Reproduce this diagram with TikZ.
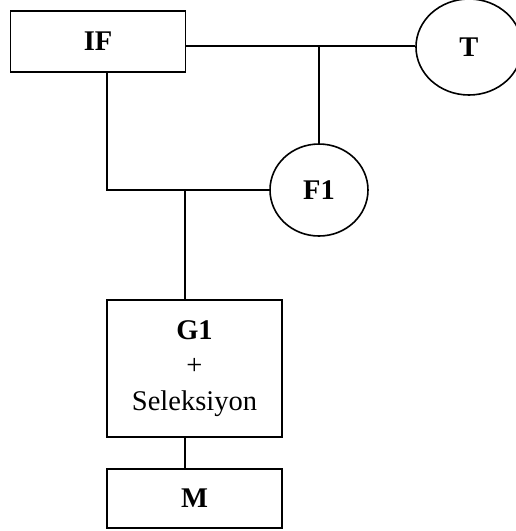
\documentclass[tikz,border=0pt]{standalone}
\usepackage{fontspec}
\setmainfont{Liberation Serif}
\usetikzlibrary{shapes.geometric}
\begin{document}
\begin{tikzpicture}[x=1pt,y=-1pt,
  every node/.style={font=\fontsize{28.5}{35.5}\selectfont},
  wire/.style={line width=1.6pt},
  boxnode/.style={draw,line width=1.6pt,rectangle,inner sep=0pt,minimum width=175pt},
  roundnode/.style={draw,line width=1.6pt,ellipse,inner sep=0pt}]
  \useasboundingbox (0,0) rectangle (515,531);
  % nodes
  \node[boxnode,minimum height=61pt] (IF) at (98,41.5) {\textbf{IF}};
  \node[roundnode,minimum width=106pt,minimum height=96pt] (T) at (469,47) {\textbf{T}};
  \node[roundnode,minimum width=98pt,minimum height=92pt] (F1) at (319,190) {\textbf{F1}};
  \node[boxnode,minimum height=137pt,align=center] (G1) at (194.5,368.5)
    {\textbf{G1}\\+\\Seleksiyon};
  \node[boxnode,minimum height=59pt] (M) at (194.5,498.5) {\textbf{M}};
  % junction points
  \coordinate (j1) at (319,46);
  \coordinate (j2) at (185,190);
  % connectors
  \draw[wire] (IF.east |- j1) -- (T.west |- j1);
  \draw[wire] (j1) -- (F1.north);
  \draw[wire] ([xshift=9pt]IF.south) |- (F1.west);
  \draw[wire] (j2) -- (j2 |- G1.north);
  \draw[wire] (G1.south -| j2) -- (M.north -| j2);
\end{tikzpicture}
\end{document}
